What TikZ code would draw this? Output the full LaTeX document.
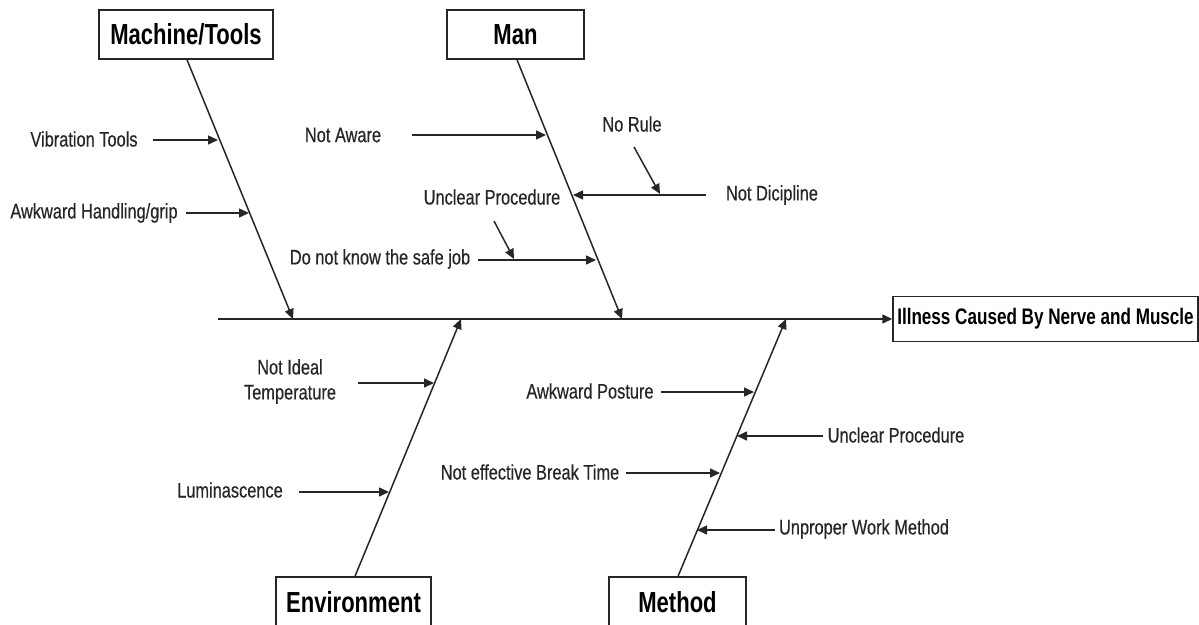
\documentclass[tikz,border=0pt]{standalone}
\usepackage{fontspec}
\setmainfont{Liberation Sans}
\newfontfamily\nf[FakeStretch=0.78,FakeBold=0.4]{Liberation Sans}
\newfontfamily\nfb[FakeStretch=0.76]{Liberation Sans}
\usetikzlibrary{arrows.meta}
\begin{document}
\begin{tikzpicture}[x=1pt,y=-1pt,
  box/.style={draw=black!85, line width=1.5pt, inner sep=0pt, font=\nfb\bfseries\fontsize{29}{32}\selectfont},
  lbl/.style={inner sep=0pt, text=black!85, font=\nf\fontsize{21}{25}\selectfont},
  arr/.style={line width=1.5pt, draw=black!85, -{Triangle[length=10pt,width=9pt]}},
]
\useasboundingbox (0,0) rectangle (1199,624);
% category and effect boxes
\node[box, minimum width=174pt, minimum height=49pt] (mt) at (186,34.5) {Machine/Tools};
\node[box, minimum width=137pt, minimum height=49pt] (man) at (515.5,34.5) {Man};
\node[box, font=\nfb\bfseries\fontsize{22.5}{24}\selectfont, minimum width=305pt, minimum height=45pt] (eff) at (1045.5,319) {Illness Caused By Nerve and Muscle};
\node[box, minimum width=155pt, minimum height=50pt] (env) at (353.5,602) {Environment};
\node[box, minimum width=137pt, minimum height=50pt] (meth) at (677.5,602) {Method};
% spine and bones
\coordinate (tail) at (218,319);
\coordinate (jM) at (293,319);
\coordinate (jN) at (622,319);
\coordinate (jE) at (461,319);
\coordinate (jD) at (786,319);
\draw[arr] (tail) -- (eff.west);
\draw[arr] ([xshift=1pt]mt.south) -- (jM);
\draw[arr] ([xshift=1.5pt]man.south) -- (jN);
\draw[arr] ([xshift=1.5pt]env.north) -- (jE);
\draw[arr] ([xshift=0.5pt]meth.north) -- (jD);
% Machine/Tools causes
\node[lbl] (vt) at (84,139) {Vibration Tools};
\coordinate (vtS) at (153,140); \coordinate (vtE) at (218,140);
\draw[arr] (vtS) -- (vtE);
\node[lbl] (ah) at (94,213) {Awkward Handling/grip};
\coordinate (ahS) at (186,213); \coordinate (ahE) at (249,213);
\draw[arr] (ahS) -- (ahE);
% Man causes
\node[lbl] (na) at (343,135) {Not Aware};
\coordinate (naS) at (412,135); \coordinate (naE) at (546,135);
\draw[arr] (naS) -- (naE);
\node[lbl] (nd) at (772,195) {Not Dicipline};
\coordinate (ndS) at (706,195); \coordinate (ndE) at (573,195);
\draw[arr] (ndS) -- (ndE);
\node[lbl] (nr) at (632,124) {No Rule};
\coordinate (nrS) at (634,147); \coordinate (nrE) at (660,194);
\draw[arr] (nrS) -- (nrE);
\node[lbl] (up1) at (492,197) {Unclear Procedure};
\node[lbl] (dk) at (380,259) {Do not know the safe job};
\coordinate (dkS) at (478,260); \coordinate (dkE) at (596,260);
\draw[arr] (dkS) -- (dkE);
\coordinate (upS) at (494,221); \coordinate (upE) at (514,259);
\draw[arr] (upS) -- (upE);
% Environment causes
\node[lbl, align=center] (ni) at (290,381.5) {Not Ideal\\Temperature};
\coordinate (niS) at (358,383); \coordinate (niE) at (434,383);
\draw[arr] (niS) -- (niE);
\node[lbl] (lu) at (230,490) {Luminascence};
\coordinate (luS) at (299,492); \coordinate (luE) at (389,492);
\draw[arr] (luS) -- (luE);
% Method causes
\node[lbl] (ap) at (590,391) {Awkward Posture};
\coordinate (apS) at (661,392); \coordinate (apE) at (754,392);
\draw[arr] (apS) -- (apE);
\node[lbl] (up2) at (896,435) {Unclear Procedure};
\coordinate (u2S) at (823,436); \coordinate (u2E) at (737,436);
\draw[arr] (u2S) -- (u2E);
\node[lbl] (nb) at (530,472) {Not effective Break Time};
\coordinate (nbS) at (626,473); \coordinate (nbE) at (720,473);
\draw[arr] (nbS) -- (nbE);
\node[lbl] (uw) at (864,529) {Unproper Work Method};
\coordinate (uwS) at (775,530); \coordinate (uwE) at (697,530);
\draw[arr] (uwS) -- (uwE);
\end{tikzpicture}
\end{document}
